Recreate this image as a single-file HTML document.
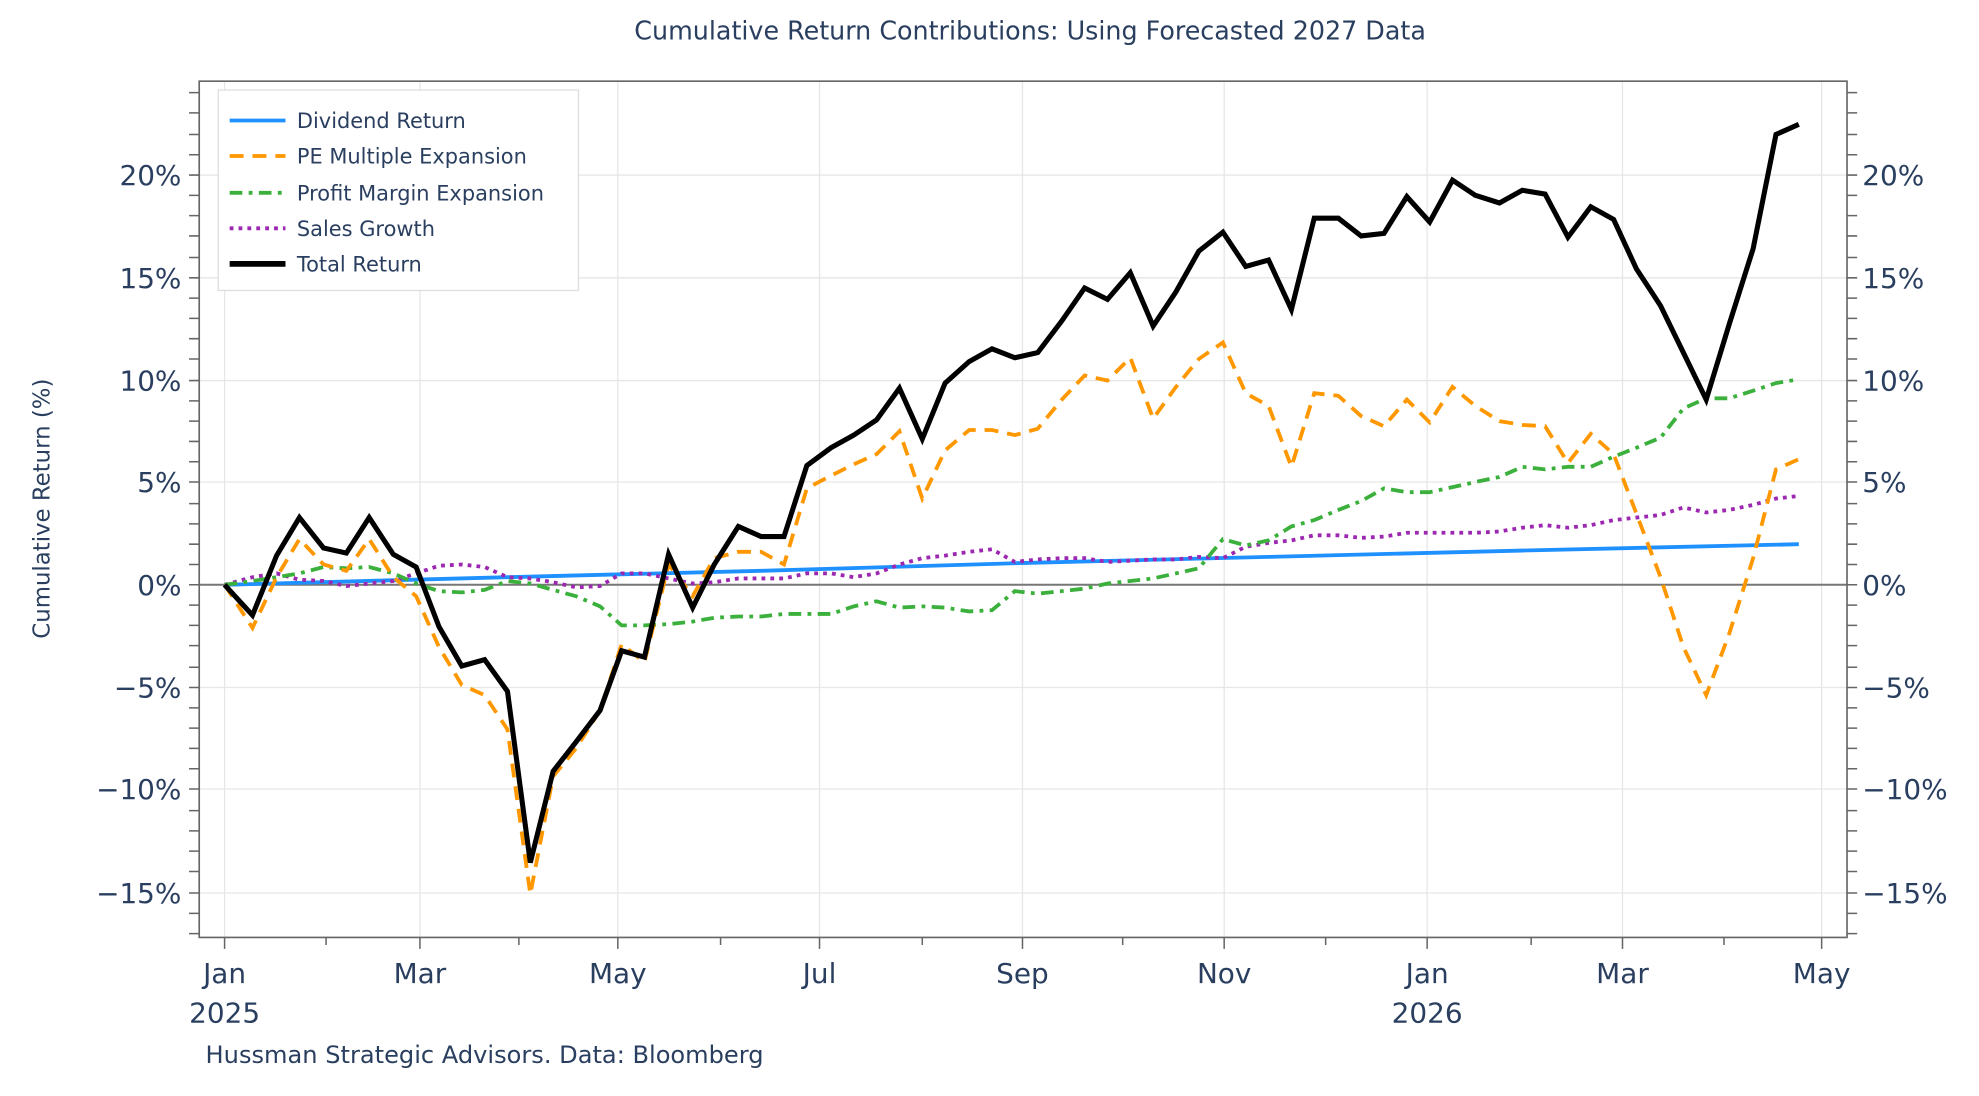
<!DOCTYPE html>
<html><head><meta charset="utf-8"><style>
html,body{margin:0;padding:0;background:#fff;}
svg{display:block;}
text{font-family:"DejaVu Sans","Liberation Sans",sans-serif;fill:#2a3f5f;}
</style></head><body>
<svg width="1979" height="1096" viewBox="0 0 1560 864" xmlns="http://www.w3.org/2000/svg">
<rect width="1560" height="864" fill="#fff"/>
<text x="812" y="31" font-size="20" text-anchor="middle">Cumulative Return Contributions: Using Forecasted 2027 Data</text>
<!-- grid -->
<g stroke="#e6e6e6" stroke-width="1">
<line x1="177" y1="64" x2="177" y2="739"/><line x1="331" y1="64" x2="331" y2="739"/><line x1="487" y1="64" x2="487" y2="739"/><line x1="646" y1="64" x2="646" y2="739"/><line x1="806" y1="64" x2="806" y2="739"/><line x1="965" y1="64" x2="965" y2="739"/><line x1="1125" y1="64" x2="1125" y2="739"/><line x1="1279" y1="64" x2="1279" y2="739"/><line x1="1436" y1="64" x2="1436" y2="739"/>
<line x1="157" y1="138" x2="1456" y2="138"/><line x1="157" y1="219" x2="1456" y2="219"/><line x1="157" y1="300" x2="1456" y2="300"/><line x1="157" y1="380" x2="1456" y2="380"/><line x1="157" y1="542" x2="1456" y2="542"/><line x1="157" y1="622" x2="1456" y2="622"/><line x1="157" y1="704" x2="1456" y2="704"/>
</g>
<line x1="157" y1="461" x2="1456" y2="461" stroke="#777" stroke-width="1.6"/>
<rect x="157" y="64" width="1299" height="675" fill="none" stroke="#666" stroke-width="1.3"/>
<!-- y ticks -->
<g stroke="#666" stroke-width="1.2" id="yt"></g>
<g font-size="22" text-anchor="end">
<text x="143" y="146">20%</text><text x="143" y="227">15%</text><text x="143" y="308">10%</text><text x="143" y="388">5%</text><text x="143" y="469">0%</text><text x="143" y="550">−5%</text><text x="143" y="630">−10%</text><text x="143" y="712">−15%</text>
</g>
<g font-size="22" text-anchor="start">
<text x="1468" y="146">20%</text><text x="1468" y="227">15%</text><text x="1468" y="308">10%</text><text x="1468" y="388">5%</text><text x="1468" y="469">0%</text><text x="1468" y="550">−5%</text><text x="1468" y="630">−10%</text><text x="1468" y="712">−15%</text>
</g>
<g font-size="22" text-anchor="middle">
<text x="177" y="775">Jan</text><text x="177" y="806">2025</text><text x="331" y="775">Mar</text><text x="487" y="775">May</text><text x="646" y="775">Jul</text><text x="806" y="775">Sep</text><text x="965" y="775">Nov</text><text x="1125" y="775">Jan</text><text x="1125" y="806">2026</text><text x="1279" y="775">Mar</text><text x="1436" y="775">May</text>
</g>
<text transform="translate(39,401) rotate(-90)" font-size="18" text-anchor="middle">Cumulative Return (%)</text>
<text x="162" y="838" font-size="19">Hussman Strategic Advisors. Data: Bloomberg</text>
<!-- series -->
<polyline fill="none" stroke="#1e90ff" stroke-width="3" points="177,461 400,455 600,450 800,444 1000,439 1200,434 1418,429"/>
<polyline fill="none" stroke="#9c27b0" stroke-width="3" stroke-dasharray="3,4" points="177,461 199,455 218,452 236,457 255,458 273,462 291,460 310,458 328,452 346,446 364,445 382,447 400,455 418,456 436,459 454,463 473,462 490,452 508,452 527,456 546,460 563,459 582,456 600,456 618,456 636,452 655,452 673,455 691,452 709,445 727,440 745,438 764,435 782,433 800,443 818,441 837,440 855,440 873,443 891,442 909,441 927,441 945,439 964,440 982,431 1000,428 1018,426 1036,422 1055,422 1073,424 1091,423 1109,420 1127,420 1145,420 1163,420 1182,419 1200,416 1218,414 1236,416 1254,414 1272,410 1290,408 1309,406 1327,400 1345,404 1363,402 1382,398 1400,393 1418,391"/>
<polyline fill="none" stroke="#3cb03c" stroke-width="3" stroke-dasharray="10,5,3,5" points="177,461 199,458 218,455 236,452 255,447 273,448 291,447 310,452 328,460 346,466 364,467 382,465 400,458 418,460 436,465 454,470 473,478 490,493 508,493 527,492 546,490 563,487 582,486 600,486 618,484 636,484 655,484 673,478 691,474 709,479 727,478 745,479 764,482 782,481 800,466 818,468 837,466 855,464 873,460 891,458 909,456 927,452 945,448 964,425 982,430 1000,426 1018,415 1036,410 1055,402 1073,395 1091,385 1109,388 1127,388 1145,384 1163,380 1182,376 1200,368 1218,370 1236,368 1254,368 1272,360 1290,353 1309,345 1327,322 1345,314 1363,314 1382,308 1400,302 1418,299"/>
<polyline fill="none" stroke="#ff9800" stroke-width="3" stroke-dasharray="11,7" points="177,461 199,495 218,455 236,425 255,445 273,450 291,425 310,455 328,470 346,510 364,540 382,548 400,575 418,705 436,612 454,590 473,560 490,508 508,522 527,445 546,470 563,440 582,435 600,435 618,445 636,385 655,375 673,366 691,358 709,340 727,393 745,355 764,339 782,339 800,343 818,338 837,315 855,296 873,300 891,282 909,330 927,305 945,283 964,270 982,310 1000,320 1018,368 1036,310 1055,312 1073,328 1091,336 1109,315 1127,333 1145,305 1163,320 1182,332 1200,335 1218,336 1236,365 1254,342 1272,358 1290,405 1309,455 1327,510 1345,548 1363,500 1382,440 1400,370 1418,362"/>
<polyline fill="none" stroke="#000" stroke-width="4" stroke-linejoin="miter" points="177,461 199,485 218,438 236,408 255,432 273,436 291,408 310,437 328,447 346,494 364,525 382,520 400,545 418,680 436,608 454,585 473,560 490,513 508,518 527,437 546,479 563,445 582,415 600,423 618,423 636,367 655,353 673,343 691,331 709,306 727,346 745,302 764,285 782,275 800,282 818,278 837,253 855,227 873,236 891,215 909,257 927,230 945,198 964,183 982,210 1000,205 1018,244 1036,172 1055,172 1073,186 1091,184 1109,155 1127,175 1145,142 1163,154 1182,160 1200,150 1218,153 1236,187 1254,163 1272,173 1290,212 1309,241 1327,278 1345,315 1363,256 1382,196 1400,106 1418,98"/>
<!-- legend -->
<rect x="172" y="71" width="284" height="158" fill="#fff" stroke="#ddd" stroke-width="1"/>
<g stroke-width="3">
<line x1="181" y1="95" x2="225" y2="95" stroke="#1e90ff"/>
<line x1="181" y1="123" x2="225" y2="123" stroke="#ff9800" stroke-dasharray="11,7"/>
<line x1="181" y1="152" x2="225" y2="152" stroke="#3cb03c" stroke-dasharray="10,5,3,5"/>
<line x1="181" y1="180" x2="225" y2="180" stroke="#9c27b0" stroke-dasharray="3,4"/>
<line x1="181" y1="208" x2="225" y2="208" stroke="#000" stroke-width="4.5"/>
</g>
<g font-size="16.5">
<text x="234" y="101">Dividend Return</text><text x="234" y="129">PE Multiple Expansion</text><text x="234" y="158">Profit Margin Expansion</text><text x="234" y="186">Sales Growth</text><text x="234" y="214">Total Return</text>
</g>
<g stroke="#666" stroke-width="1.2">
<path d="M149 73H157M149 89H157M149 106H157M149 122H157M149 138H157M149 154H157M149 170H157M149 186H157M149 203H157M149 219H157M149 235H157M149 251H157M149 267H157M149 283H157M149 300H157M149 316H157M149 332H157M149 348H157M149 364H157M149 380H157M149 397H157M149 413H157M149 429H157M149 445H157M149 461H157M149 477H157M149 493H157M149 509H157M149 526H157M149 542H157M149 558H157M149 574H157M149 590H157M149 606H157M149 622H157M149 639H157M149 655H157M149 671H157M149 687H157M149 704H157M149 720H157M149 736H157"/>
<path d="M1456 73H1464M1456 89H1464M1456 106H1464M1456 122H1464M1456 138H1464M1456 154H1464M1456 170H1464M1456 186H1464M1456 203H1464M1456 219H1464M1456 235H1464M1456 251H1464M1456 267H1464M1456 283H1464M1456 300H1464M1456 316H1464M1456 332H1464M1456 348H1464M1456 364H1464M1456 380H1464M1456 397H1464M1456 413H1464M1456 429H1464M1456 445H1464M1456 461H1464M1456 477H1464M1456 493H1464M1456 509H1464M1456 526H1464M1456 542H1464M1456 558H1464M1456 574H1464M1456 590H1464M1456 606H1464M1456 622H1464M1456 639H1464M1456 655H1464M1456 671H1464M1456 687H1464M1456 704H1464M1456 720H1464M1456 736H1464"/>
<path d="M177 739V748M257 739V745M331 739V748M409 739V745M487 739V748M568 739V745M646 739V748M727 739V745M806 739V748M885 739V745M965 739V748M1045 739V745M1125 739V748M1207 739V745M1279 739V748M1359 739V745M1436 739V748"/>
</g>
</svg>
</body></html>
